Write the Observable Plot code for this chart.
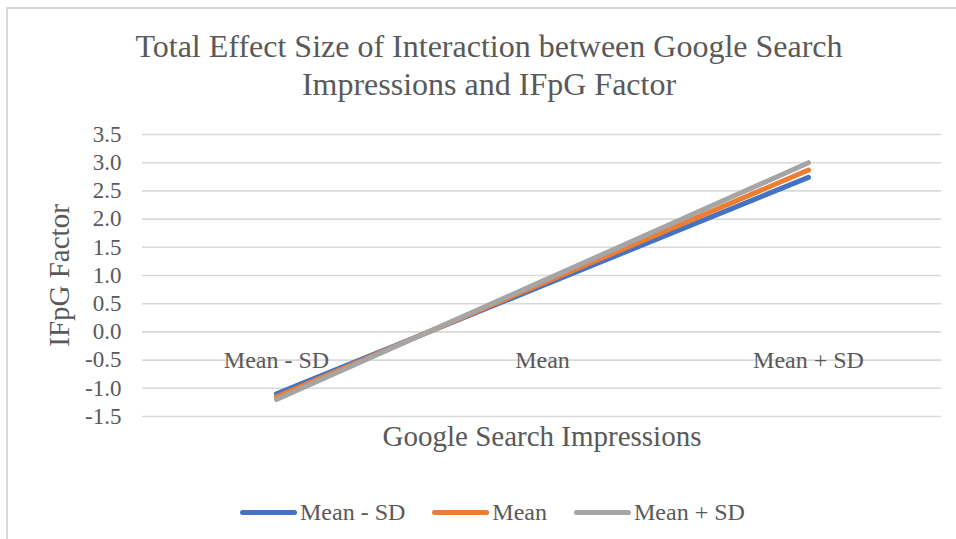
<!DOCTYPE html>
<html><head><meta charset="utf-8">
<script src="https://cdn.jsdelivr.net/npm/d3@7"></script>
<script src="https://cdn.jsdelivr.net/npm/@observablehq/plot@0.6"></script>
<style>
body{margin:0;background:#fff;}
#wrap{position:relative;width:956px;height:539px;overflow:hidden;font-family:"Liberation Serif","Times New Roman",serif;color:#595959;background:#fff;}
#frame{position:absolute;left:6px;top:7px;width:1000px;height:600px;border:2px solid #d9d9d9;box-sizing:border-box;}
#title{position:absolute;left:0;width:978px;top:27px;text-align:center;font-size:32px;line-height:38px;}
#chart{position:absolute;left:0;top:0;}
#legend{position:absolute;top:497px;left:240px;display:flex;align-items:center;font-size:24px;line-height:30px;white-space:nowrap;}
.item{display:flex;align-items:center;margin-right:27px;}
.sw{width:57px;height:5px;border-radius:3px;margin-right:3px;}
</style>
</head><body>
<div id="wrap">
  <div id="frame"></div>
  <div id="chart"></div>
  <div id="title">Total Effect Size of Interaction between Google Search<br>Impressions and IFpG Factor</div>
  <div id="legend"></div>
</div>
<script>
const categories = ["Mean - SD", "Mean", "Mean + SD"];
const seriesNames = ["Mean - SD", "Mean", "Mean + SD"];
const lowSD = [-1.10, 0.82, 2.74];
const meanLevel = [-1.15, 0.86, 2.87];
const highSD = [-1.20, 0.90, 3.00];
const colors = ["#4472C4", "#ED7D31", "#A5A5A5"];
const yTicks = [-1.5, -1.0, -0.5, 0, 0.5, 1.0, 1.5, 2.0, 2.5, 3.0, 3.5];
const xTitle = "Google Search Impressions";
const yTitle = "IFpG Factor";

const seriesValues = [lowSD, meanLevel, highSD];
const table = [];
seriesNames.forEach((s, i) => categories.forEach((c, j) => table.push({series: s, cat: c, value: seriesValues[i][j]})));

const fontFam = '"Liberation Serif","Times New Roman",serif';
const chart = Plot.plot({
  width: 956, height: 539,
  marginTop: 134, marginBottom: 123, marginLeft: 142, marginRight: 15,
  style: {background: "transparent", fontFamily: fontFam, color: "#595959", overflow: "visible"},
  x: {type: "point", domain: categories, padding: 0.5, axis: null},
  y: {domain: [-1.5, 3.5], axis: null},
  color: {domain: seriesNames, range: colors},
  marks: [
    Plot.gridY(yTicks, {stroke: "#d9d9d9", strokeOpacity: 1, strokeWidth: 1.6}),
    Plot.axisY({ticks: yTicks, tickSize: 0, tickPadding: 21, tickFormat: d => d.toFixed(1), fontSize: 23, label: null, fill: "#595959"}),
    Plot.text(categories, {x: d => d, y: 0, dy: 28, fontSize: 24, fill: "#595959"}),
    Plot.line(table, {x: "cat", y: "value", z: "series", stroke: "series", strokeWidth: 5, strokeLinecap: "round"}),
    Plot.text([xTitle], {frameAnchor: "bottom", dy: 29, fontSize: 29, fill: "#595959"}),
    Plot.text([yTitle], {frameAnchor: "left", textAnchor: "middle", dx: -83, rotate: -90, fontSize: 29, fill: "#595959"})
  ]
});
document.getElementById("chart").appendChild(chart);

const legend = document.getElementById("legend");
seriesNames.forEach((s, i) => {
  const it = document.createElement("div");
  it.className = "item";
  const sw = document.createElement("div");
  sw.className = "sw";
  sw.style.background = colors[i];
  const tx = document.createElement("span");
  tx.textContent = s;
  it.appendChild(sw); it.appendChild(tx);
  legend.appendChild(it);
});
</script>
</body></html>
